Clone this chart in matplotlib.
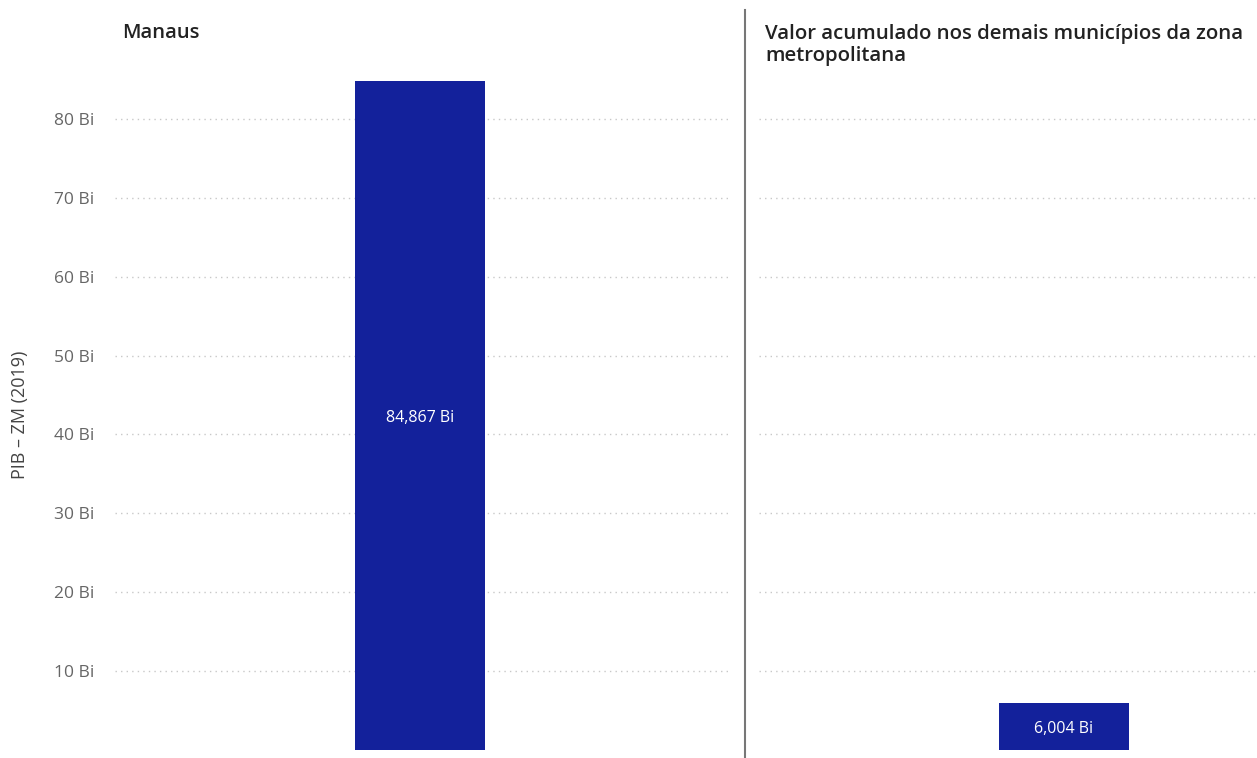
import matplotlib.pyplot as plt
from matplotlib.lines import Line2D

# PIB da zona metropolitana (2019), em bilhões
paineis = ["Manaus", "Valor acumulado nos demais municípios da zona\nmetropolitana"]
valores = [84.867, 6.004]
rotulos = ["84,867 Bi", "6,004 Bi"]
yticks = [10, 20, 30, 40, 50, 60, 70, 80]
ytick_labels = [f"{v} Bi" for v in yticks]

COR_BARRA = "#13219b"
COR_TEXTO = "#666666"

plt.rcParams["font.family"] = ["Open Sans", "DejaVu Sans"]

fig = plt.figure(figsize=(12.57, 7.58), dpi=100)
W, H = 1257, 758

# painel esquerdo e direito (o direito ultrapassa a borda da figura)
ax_left = fig.add_axes([115 / W, 8 / H, 615 / W, 680 / H])
ax_right = fig.add_axes([759 / W, 8 / H, 615 / W, 680 / H])

for i, ax in enumerate([ax_left, ax_right]):
    ax.bar([0], [valores[i]], width=0.21, color=COR_BARRA, zorder=3)
    ax.text(0, valores[i] / 2 - 0.4, rotulos[i], ha="center", va="center",
            color="white", fontsize=11.5, zorder=4)
    ax.set_xlim(-0.496, 0.504)
    ax.set_ylim(0, 86.2)
    ax.set_yticks(yticks)
    ax.grid(axis="y", linestyle=(0, (1, 3)), color="#c8c8c8", linewidth=1)
    ax.set_xticks([])
    for s in ax.spines.values():
        s.set_visible(False)
    ax.tick_params(axis="y", length=0, pad=15, labelcolor=COR_TEXTO, labelsize=12.5)

ax_left.set_yticklabels(ytick_labels)
ax_right.set_yticklabels([])

# rótulo do eixo y
fig.text(20 / W, 1 - 415 / H, "PIB – ZM (2019)", rotation=90, ha="center",
         va="center", fontsize=13, color="#444444")

# títulos dos painéis
fig.text(122 / W, 1 - 33 / H, paineis[0], ha="left", va="center",
         fontsize=14.5, fontweight="semibold", color="#222222")
fig.text(765 / W, 1 - 45 / H, paineis[1], ha="left", va="center",
         fontsize=14.7, fontweight="semibold", color="#222222", linespacing=1.1)

# linha divisória entre os painéis
fig.add_artist(Line2D([745 / W, 745 / W], [0, 1 - 10 / H],
                      transform=fig.transFigure, color="#777777", linewidth=1.5))

fig.savefig("out.png", dpi=100)
